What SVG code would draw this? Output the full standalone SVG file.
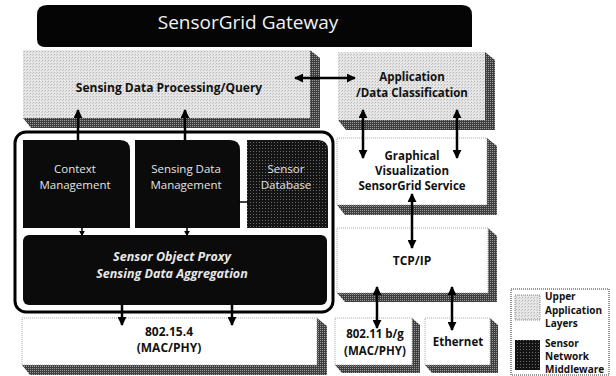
<svg xmlns="http://www.w3.org/2000/svg" width="616" height="376" viewBox="0 0 616 376">
<defs>
  <pattern id="lt" width="3" height="3" patternUnits="userSpaceOnUse">
    <rect width="3" height="3" fill="#e6e6e6"/>
    <rect x="0" y="0" width="1" height="1" fill="#b4b4b4"/>
    <rect x="2" y="1" width="1" height="1" fill="#cacaca"/>
  </pattern>
  <pattern id="sh" width="2" height="2" patternUnits="userSpaceOnUse">
    <rect width="2" height="2" fill="#3e3e3e"/>
    <rect x="0" y="0" width="1" height="1" fill="#9a9a9a"/>
  </pattern>
  <pattern id="dk" width="3" height="3" patternUnits="userSpaceOnUse">
    <rect width="3" height="3" fill="#141414"/>
    <rect x="1" y="1" width="1" height="1" fill="#6a6a6a"/>
  </pattern>
  <marker id="ah" viewBox="0 0 10 10" refX="9" refY="5" markerWidth="9" markerHeight="9" markerUnits="userSpaceOnUse" orient="auto-start-reverse">
    <path d="M0,0 L10,5 L0,10 Z" fill="#000"/>
  </marker>
  <marker id="ahs" viewBox="0 0 10 10" refX="9" refY="5" markerWidth="6" markerHeight="6" markerUnits="userSpaceOnUse" orient="auto-start-reverse">
    <path d="M0,0 L10,5 L0,10 Z" fill="#000"/>
  </marker>
  <style>
    .face-lt { fill: url(#lt); }
    .face-wh { fill: #ffffff; stroke: #a8a8a8; stroke-width: 1; stroke-dasharray: 1 1; }
    .shadow { fill: url(#sh); }
    .blk { fill: #0b0b0b; }
    .t-bold { font-family: "Open Sans", "Noto Sans", "Liberation Sans", sans-serif; font-weight: bold; fill: #111; text-anchor: middle; }
    .t-mw { font-family: "Open Sans", "Noto Sans", "Liberation Sans", sans-serif; font-size: 11.5px; fill: #e4e4e4; text-anchor: middle; }
    .t-proxy { font-family: "Open Sans", "Noto Sans", "Liberation Sans", sans-serif; font-size: 12.5px; font-weight: bold; font-style: italic; fill: #e8e8e8; text-anchor: middle; }
    .t-leg { font-family: "Open Sans", "Noto Sans", "Liberation Sans", sans-serif; font-size: 10px; font-weight: bold; fill: #111; }
    .conn { stroke: #000; stroke-width: 2.5; fill: none; }
    .conn-s { stroke: #000; stroke-width: 1.5; fill: none; }
  </style>
</defs>
<rect width="616" height="376" fill="#ffffff"/>

<g id="gateway">
  <path d="M47,5 H462 Q472,5 472,15 V47 H45 Q37,47 37,39 V15 Q37,5 47,5 Z" fill="#050505"/>
  <text x="248" y="29" font-family="Open Sans, Noto Sans, Liberation Sans, sans-serif" font-size="19" fill="#f2f2f2" text-anchor="middle">SensorGrid Gateway</text>
</g>

<g id="sensing-processing">
  <polygon class="shadow" points="310,50 320,58 320,128 31,128 23,118"/>
  <rect class="face-lt" x="23" y="50" width="287" height="68"/>
  <text class="t-bold" x="169" y="92" font-size="12">Sensing Data Processing/Query</text>
</g>

<g id="application">
  <polygon class="shadow" points="485,52 495,60 495,130 346,130 338,120"/>
  <rect class="face-lt" x="338" y="52" width="147" height="68"/>
  <text class="t-bold" x="412" y="81" font-size="11.5">Application</text>
  <text class="t-bold" x="412" y="97" font-size="11.5">/Data Classification</text>
</g>

<g id="middleware-frame">
  <rect x="15" y="132" width="318" height="180" rx="11" fill="#ffffff" stroke="#000" stroke-width="3"/>
</g>

<g id="context-management">
  <path class="blk" d="M23,140 H120 Q130,140 130,150 V228 H23 Z"/>
  <text class="t-mw" x="75" y="173">Context</text>
  <text class="t-mw" x="75" y="189">Management</text>
</g>

<g id="sensing-data-management">
  <path class="blk" d="M135,140 H230 Q240,140 240,150 V228 H135 Z"/>
  <text class="t-mw" x="186" y="173">Sensing Data</text>
  <text class="t-mw" x="186" y="189">Management</text>
</g>

<g id="sensor-database">
  <path d="M247,140 H318 Q328,140 328,150 V228 H247 Z" fill="url(#dk)"/>
  <text class="t-mw" x="286" y="173">Sensor</text>
  <text class="t-mw" x="286" y="189">Database</text>
</g>

<g id="sensor-object-proxy">
  <rect class="blk" x="23" y="235" width="304" height="70" rx="6"/>
  <text class="t-proxy" x="172" y="261">Sensor Object Proxy</text>
  <text class="t-proxy" x="172" y="278">Sensing Data Aggregation</text>
</g>

<g id="graphical-visualization">
  <polygon class="shadow" points="487,138 497,146 497,215 345,215 337,205"/>
  <rect class="face-wh" x="337" y="138" width="150" height="67"/>
  <text class="t-bold" x="412" y="160" font-size="11.5">Graphical</text>
  <text class="t-bold" x="412" y="175" font-size="11.5">Visualization</text>
  <text class="t-bold" x="412" y="190" font-size="11.5">SensorGrid Service</text>
</g>

<g id="tcp-ip">
  <polygon class="shadow" points="488,228 497,236 497,302 345,302 337,293"/>
  <rect class="face-wh" x="337" y="228" width="151" height="65"/>
  <text class="t-bold" x="412" y="265" font-size="12">TCP/IP</text>
</g>

<g id="ieee-802-15-4">
  <polygon class="shadow" points="317,318 327,326 327,375 30,375 22,365"/>
  <rect class="face-wh" x="22" y="318" width="295" height="47"/>
  <text class="t-bold" x="169" y="336" font-size="12">802.15.4</text>
  <text class="t-bold" x="169" y="352" font-size="12">(MAC/PHY)</text>
</g>

<g id="ieee-802-11">
  <polygon class="shadow" points="412,318 420,325 420,373 342,373 335,365"/>
  <rect class="face-wh" x="335" y="318" width="77" height="47"/>
  <text class="t-bold" x="375" y="338" font-size="11.5">802.11 b/g</text>
  <text class="t-bold" x="375" y="355" font-size="11.5">(MAC/PHY)</text>
</g>

<g id="ethernet">
  <polygon class="shadow" points="490,318 498,325 498,373 432,373 425,365"/>
  <rect class="face-wh" x="425" y="318" width="65" height="47"/>
  <text class="t-bold" x="458" y="346" font-size="11.5">Ethernet</text>
</g>

<g id="connectors">
  <line class="conn" x1="78" y1="140" x2="78" y2="110" marker-end="url(#ah)"/>
  <line class="conn" x1="185" y1="140" x2="185" y2="110" marker-end="url(#ah)"/>
  <line class="conn" x1="295" y1="78" x2="355" y2="78" marker-start="url(#ah)" marker-end="url(#ah)"/>
  <line class="conn" x1="363" y1="110" x2="363" y2="158" marker-start="url(#ah)" marker-end="url(#ah)"/>
  <line class="conn" x1="457" y1="110" x2="457" y2="158" marker-start="url(#ah)" marker-end="url(#ah)"/>
  <line class="conn" x1="412" y1="194" x2="412" y2="248" marker-start="url(#ah)" marker-end="url(#ah)"/>
  <line class="conn" x1="377" y1="287" x2="377" y2="328" marker-start="url(#ah)" marker-end="url(#ah)"/>
  <line class="conn" x1="452" y1="287" x2="452" y2="330" marker-start="url(#ah)" marker-end="url(#ah)"/>
  <line class="conn" x1="122" y1="305" x2="122" y2="325" marker-end="url(#ah)"/>
  <line class="conn" x1="232" y1="305" x2="232" y2="325" marker-end="url(#ah)"/>
  <line class="conn-s" x1="82" y1="227" x2="82" y2="236" marker-end="url(#ahs)"/>
  <line class="conn-s" x1="187" y1="227" x2="187" y2="236" marker-end="url(#ahs)"/>
  <line class="conn-s" x1="239" y1="202" x2="248" y2="202"/>
</g>

<g id="legend">
  <rect x="511" y="289" width="98" height="86" fill="#ffffff" stroke="#333" stroke-width="1" stroke-dasharray="1 1"/>
  <rect x="515" y="295" width="25" height="25" fill="url(#lt)" stroke="#888" stroke-width="1" stroke-dasharray="1 1"/>
  <rect x="515" y="340" width="25" height="30" fill="url(#dk)"/>
  <text class="t-leg" x="545" y="300">Upper</text>
  <text class="t-leg" x="545" y="314">Application</text>
  <text class="t-leg" x="545" y="327">Layers</text>
  <text class="t-leg" x="545" y="347">Sensor</text>
  <text class="t-leg" x="545" y="360">Network</text>
  <text class="t-leg" x="545" y="373">Middleware</text>
</g>
</svg>
